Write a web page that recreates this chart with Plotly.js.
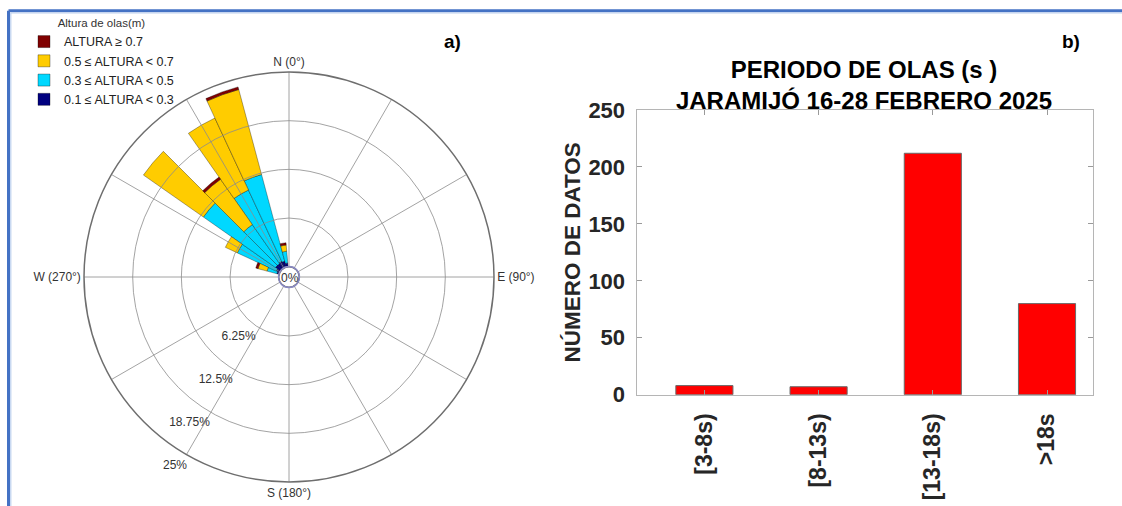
<!DOCTYPE html>
<html><head><meta charset="utf-8">
<script src="https://cdn.plot.ly/plotly-3.0.1.min.js"></script>
<style>html,body{margin:0;padding:0;background:#fff;} #chart{width:1122px;height:506px;}</style>
</head><body><div id="chart"></div>
<script>
// ---- Wave rose (panel a) ----
const directions = [290, 300, 310, 320, 330, 340, 350];
const freqH01_03 = [0.3, 0.5, 0.8, 0.8, 0.9, 0.8, 0.5];
const freqH03_05 = [1.3, 5.5, 11.3, 6.1, 10.1, 11.5, 1.5];
const freqH05_07 = [1.2, 1.7, 9.4, 7.1, 10.2, 11.3, 0.8];
const freqH07   = [0.3, 0, 0, 0.35, 0, 0.35, 0.3];
const heightLabels = ['0.1 \u2264 ALTURA < 0.3', '0.3 \u2264 ALTURA < 0.5', '0.5 \u2264 ALTURA < 0.7', 'ALTURA \u2265 0.7'];
const heightColors = ['#000080', '#00D8FF', '#FFCC00', '#800000'];
const radialTicks = [6.25, 12.5, 18.75, 25];
const radialTickText = ['6.25%', '12.5%', '18.75%', '25%'];
const compassTicks = [0, 30, 60, 90, 120, 150, 180, 210, 240, 270, 300, 330];
const compassText = ['N (0\u00b0)', '', '', 'E (90\u00b0)', '', '', 'S (180\u00b0)', '', '', 'W (270\u00b0)', '', ''];

// ---- Wave period histogram (panel b) ----
const periodCategories = ['[3-8s)', '[8-13s)', '[13-18s)', '>18s'];
const periodCounts = [8, 7, 212, 80];

const W = 1122, H = 506;
const px = v => v / W;
const py = v => 1 - v / H;
const FONT = 'Arial, "Liberation Sans", sans-serif';

const roseSeries = [freqH01_03, freqH03_05, freqH05_07, freqH07];
const traces = roseSeries.map((vals, i) => ({
  type: 'barpolar', subplot: 'polar',
  r: vals, theta: directions, width: 10,
  name: heightLabels[i],
  marker: {color: heightColors[i], line: {color: 'rgba(0,0,0,0.55)', width: 0.6}},
  hoverinfo: 'skip'
}));
traces.push({type: 'scatterpolar', subplot: 'polar2', r: [], theta: [], showlegend: false, hoverinfo: 'skip'});
traces.push({
  type: 'bar', x: periodCategories, y: periodCounts, xaxis: 'x', yaxis: 'y',
  width: 0.5, showlegend: false,
  marker: {color: '#FF0000', line: {color: '#6a6a6a', width: 1}}
});

const polarDomain = {x: [px(84), px(494)], y: [py(482), py(72)]};
const hole = 0.05;

const layout = {
  width: W, height: H,
  margin: {l: 0, r: 0, t: 0, b: 0},
  paper_bgcolor: '#ffffff', plot_bgcolor: '#ffffff',
  font: {family: FONT, color: '#262626'},
  showlegend: true,
  legend: {
    x: px(24), y: py(12), xanchor: 'left', yanchor: 'top',
    traceorder: 'reversed', bgcolor: 'rgba(255,255,255,0)',
    font: {size: 12.5, family: FONT, color: '#222'},
    title: {text: 'Altura de olas(m)', side: 'top center', font: {size: 11.5, family: FONT, color: '#333'}},
    tracegroupgap: 0
  },
  polar: {
    domain: polarDomain, hole: hole, barmode: 'stack',
    bgcolor: '#ffffff',
    radialaxis: {visible: false, range: [0, 25]},
    angularaxis: {visible: false, rotation: 90, direction: 'clockwise'}
  },
  polar2: {
    domain: polarDomain, hole: hole,
    bgcolor: 'rgba(0,0,0,0)',
    radialaxis: {
      range: [0, 25], tickvals: radialTicks,
      ticktext: radialTickText.map(t => '<br>' + t),
      angle: 242, tickangle: -118, side: 'clockwise', showline: false, ticks: '',
      showgrid: true, gridcolor: '#8c8c8c', gridwidth: 0.8,
      tickfont: {size: 12, family: FONT, color: '#333'}
    },
    angularaxis: {
      rotation: 90, direction: 'clockwise',
      tickmode: 'array', tickvals: compassTicks, ticktext: compassText,
      ticks: '', showline: true, linecolor: '#6e6e6e', linewidth: 1.5,
      showgrid: true, gridcolor: '#8c8c8c', gridwidth: 0.8,
      tickfont: {size: 12, family: FONT, color: '#333'}
    }
  },
  title: {
    text: 'PERIODO DE OLAS (s )<br>JARAMIJ\u00d3 16-28 FEBRERO 2025',
    x: px(864), xanchor: 'center', y: py(78), yanchor: 'middle',
    font: {size: 24, family: FONT, color: '#000', weight: 'bold'}
  },
  xaxis: {
    domain: [px(637), px(1092.7)], anchor: 'y',
    type: 'category', range: [-0.59, 3.40],
    tickangle: -90, ticks: 'inside', ticklen: 5, tickcolor: '#9a9a9a',
    showline: true, linecolor: '#b5b5b5', linewidth: 1.5, mirror: 'ticks',
    showgrid: false, ticklabelstandoff: 8,
    tickfont: {size: 23, family: FONT, color: '#262626', weight: 'bold'}
  },
  yaxis: {
    domain: [py(394.7), py(110)], anchor: 'x',
    range: [0, 250], tickvals: [0, 50, 100, 150, 200, 250],
    ticks: 'inside', ticklen: 5, tickcolor: '#9a9a9a',
    showline: true, linecolor: '#b5b5b5', linewidth: 1.5, mirror: 'ticks',
    showgrid: false, zeroline: false, ticklabelstandoff: 6,
    tickfont: {size: 22, family: FONT, color: '#262626', weight: 'bold'},
    title: {text: 'N\u00daMERO DE DATOS', standoff: 1, font: {size: 22.5, family: FONT, color: '#262626', weight: 'bold'}}
  },
  annotations: [
    {text: 'a)', x: px(452), y: py(42), xref: 'paper', yref: 'paper', showarrow: false,
     xanchor: 'center', yanchor: 'middle',
     font: {size: 19, family: FONT, color: '#000', weight: 'bold'}},
    {text: 'b)', x: px(1071), y: py(42), xref: 'paper', yref: 'paper', showarrow: false,
     xanchor: 'center', yanchor: 'middle',
     font: {size: 19, family: FONT, color: '#000', weight: 'bold'}},
    {text: '0%', x: px(290), y: py(277.5), xref: 'paper', yref: 'paper', showarrow: false,
     xanchor: 'center', yanchor: 'middle',
     font: {size: 12, family: FONT, color: '#333'}}
  ],
  shapes: [
    {type: 'circle', xref: 'paper', yref: 'paper', layer: 'above',
     x0: px(289 - 10.5), x1: px(289 + 10.5), y0: py(277 + 10.5), y1: py(277 - 10.5),
     line: {color: '#8a8ac4', width: 1.3}},
    {type: 'line', xref: 'paper', yref: 'paper', x0: px(8.5), x1: 1, y0: py(10.7), y1: py(10.7),
     line: {color: '#4472C4', width: 3}},
    {type: 'line', xref: 'paper', yref: 'paper', x0: px(8.5), x1: px(8.5), y0: py(10.7), y1: 0,
     line: {color: '#4472C4', width: 3}},
    {type: 'line', xref: 'paper', yref: 'paper', x0: px(10.8), x1: 1, y0: py(13), y1: py(13),
     line: {color: '#BCD0EE', width: 1.2}},
    {type: 'line', xref: 'paper', yref: 'paper', x0: px(10.8), x1: px(10.8), y0: py(13), y1: 0,
     line: {color: '#BCD0EE', width: 1.2}}
  ]
};

Plotly.newPlot('chart', traces, layout, {staticPlot: true, displayModeBar: false});
</script>
</body></html>
